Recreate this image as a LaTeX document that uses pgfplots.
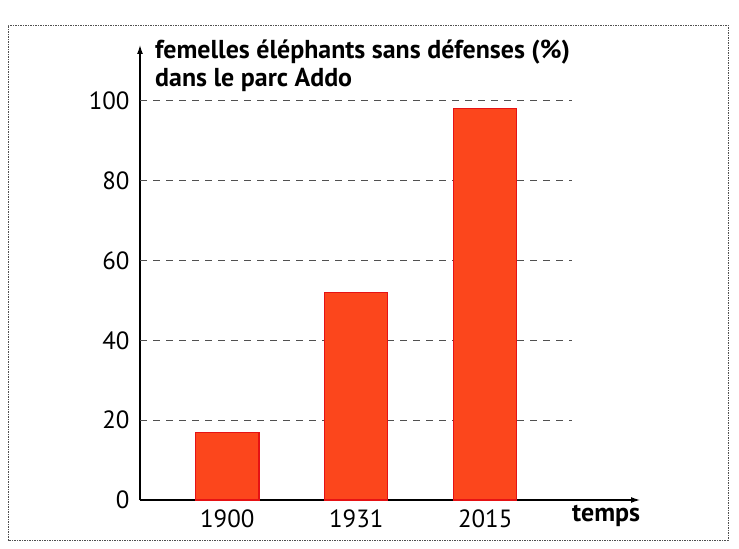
\documentclass[border=0pt]{standalone}
\usepackage{fontspec}
\setmainfont{PT Sans}
\usepackage{pgfplots}
\pgfplotsset{compat=1.18}
\usetikzlibrary{arrows.meta}
\definecolor{barfill}{RGB}{252,70,28}
\definecolor{barline}{RGB}{230,18,20}
\definecolor{gridc}{RGB}{80,80,80}
\begin{document}
\begin{tikzpicture}
\useasboundingbox (-140bp,-49bp) rectangle (599bp,500bp);
\draw[gridc, line width=0.6bp, dash pattern=on 1.5bp off 1bp] (-132bp,-40bp) rectangle (588bp,475bp);
\begin{axis}[
  at={(0,0)}, anchor=south west,
  scale only axis, width=500bp, height=455bp,
  xmin=-0.677, xmax=3.2, ymin=0, ymax=114,
  axis lines=left,
  axis line style={line width=1.3bp, -{Latex[length=9bp,width=6bp]}},
  xtick={0,1,2}, xticklabels={1900,1931,2015},
  ytick={0,20,40,60,80,100},
  major tick length=0pt,
  tick label style={font=\fontsize{25}{29}\selectfont, black},
  /pgf/number format/assume math mode=true,
  xticklabel style={yshift=-6bp},
  yticklabel style={xshift=-7bp},
  clip=false,
]
\pgfplotsinvokeforeach{20,40,60,80,100}{
  \draw[gridc, line width=0.9bp, dash pattern=on 7bp off 6bp] (axis cs:-0.677,#1) -- (axis cs:2.67,#1);
}
\addplot[ybar, bar width=0.49, fill=barfill, draw=barline, line width=1.2bp] coordinates {(0,17) (1,52) (2,98)};
\end{axis}
\node[anchor=north west, align=left, font=\fontsize{26}{28}\selectfont\bfseries, inner sep=0pt] at (15bp,460bp) {femelles éléphants sans défenses (\%)\\dans le parc Addo};
\node[anchor=base west, font=\fontsize{26}{29}\selectfont\bfseries, inner sep=0pt] at (432bp,-21bp) {temps};
\end{tikzpicture}
\end{document}
